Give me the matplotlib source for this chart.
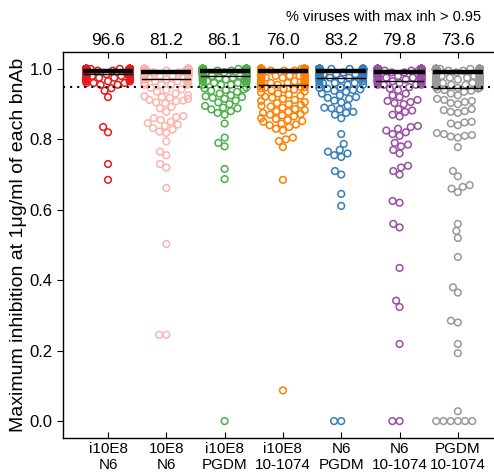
import matplotlib
matplotlib.use("Agg")
import matplotlib.pyplot as plt
import numpy as np

plt.rcParams['font.family'] = ['Liberation Sans', 'DejaVu Sans']

# paires d'anticorps (axe x)
pairs = ["i10E8\nN6", "10E8\nN6", "i10E8\nPGDM", "i10E8\n10-1074",
         "N6\nPGDM", "N6\n10-1074", "PGDM\n10-1074"]
colors = ["#e41a1c", "#fbb4ae", "#4daf4a", "#ff7f00", "#377eb8", "#984ea3", "#999999"]

# niveaux > 0.95 et nombre de virus à chaque niveau
hi_levels = [0.955, 0.96, 0.965, 0.97, 0.975, 0.98, 0.985, 0.99, 0.995, 1.0]
hi_i10e8_n6 = [2, 3, 4, 5, 8, 14, 20, 35, 50, 60]
hi_10e8_n6 = [4, 4, 3, 4, 8, 14, 20, 30, 40, 42]
hi_i10e8_pgdm = [3, 3, 4, 4, 5, 6, 12, 18, 30, 94]
hi_i10e8_1074 = [6, 5, 6, 7, 7, 7, 8, 6, 20, 86]
hi_n6_pgdm = [3, 3, 3, 4, 6, 8, 12, 14, 25, 95]
hi_n6_1074 = [4, 5, 6, 7, 8, 9, 10, 20, 30, 67]
hi_pgdm_1074 = [6, 6, 6, 6, 6, 6, 6, 12, 25, 74]

# virus sous 0.95
low_i10e8_n6 = [0.685, 0.73, 0.82, 0.835, 0.92, 0.938, 0.945]
low_10e8_n6 = [0.245, 0.245, 0.503, 0.662, 0.72, 0.73, 0.755, 0.765, 0.794,
               0.818, 0.822, 0.828, 0.832, 0.838, 0.842, 0.846, 0.85, 0.855,
               0.86, 0.863, 0.866, 0.878, 0.888, 0.892, 0.902, 0.905, 0.908,
               0.91, 0.912, 0.915, 0.918, 0.92, 0.922, 0.925, 0.93, 0.935,
               0.94, 0.942, 0.946]
low_i10e8_pgdm = [0.0, 0.687, 0.716, 0.78, 0.79, 0.805, 0.845, 0.87, 0.875,
                  0.88, 0.885, 0.888, 0.89, 0.895, 0.90, 0.905, 0.91, 0.915,
                  0.918, 0.92, 0.922, 0.925, 0.93, 0.935, 0.938, 0.94, 0.942,
                  0.945, 0.947]
low_i10e8_1074 = [0.087, 0.685, 0.778, 0.795, 0.80, 0.805, 0.825, 0.83, 0.835,
                  0.84, 0.842, 0.845, 0.85, 0.852, 0.855, 0.858, 0.86, 0.865,
                  0.868, 0.87, 0.872, 0.875, 0.878, 0.88, 0.883, 0.886, 0.89,
                  0.893, 0.895, 0.898, 0.90, 0.903, 0.906, 0.909, 0.912, 0.915,
                  0.918, 0.921, 0.924, 0.927, 0.93, 0.933, 0.936, 0.939, 0.941,
                  0.943, 0.945, 0.947, 0.948, 0.949]
low_n6_pgdm = [0.0, 0.0, 0.611, 0.645, 0.70, 0.71, 0.75, 0.755, 0.76, 0.765,
               0.77, 0.787, 0.815, 0.86, 0.87, 0.875, 0.878, 0.885, 0.888,
               0.89, 0.895, 0.905, 0.91, 0.915, 0.918, 0.92, 0.925, 0.93,
               0.935, 0.938, 0.94, 0.942, 0.944, 0.946, 0.948]
low_n6_1074 = [0.0, 0.0, 0.219, 0.324, 0.342, 0.435, 0.55, 0.56, 0.62, 0.625,
               0.70, 0.71, 0.72, 0.725, 0.76, 0.77, 0.78, 0.785, 0.79, 0.81,
               0.815, 0.82, 0.825, 0.83, 0.835, 0.838, 0.865, 0.87, 0.878,
               0.882, 0.886, 0.90, 0.903, 0.906, 0.909, 0.912, 0.92, 0.925,
               0.93, 0.94, 0.944, 0.948]
low_pgdm_1074 = [0.0, 0.0, 0.0, 0.0, 0.0, 0.0, 0.028, 0.193, 0.219, 0.28,
                 0.285, 0.365, 0.38, 0.466, 0.52, 0.54, 0.56, 0.65, 0.66,
                 0.665, 0.67, 0.695, 0.71, 0.778, 0.805, 0.808, 0.81, 0.812,
                 0.815, 0.818, 0.84, 0.845, 0.848, 0.85, 0.875, 0.878, 0.88,
                 0.883, 0.886, 0.90, 0.903, 0.906, 0.909, 0.912, 0.915, 0.925,
                 0.93, 0.935, 0.938, 0.94, 0.942, 0.944, 0.946, 0.947, 0.948]

his = [hi_i10e8_n6, hi_10e8_n6, hi_i10e8_pgdm, hi_i10e8_1074,
       hi_n6_pgdm, hi_n6_1074, hi_pgdm_1074]
lows = [low_i10e8_n6, low_10e8_n6, low_i10e8_pgdm, low_i10e8_1074,
        low_n6_pgdm, low_n6_1074, low_pgdm_1074]


def beeswarm(ypix, d, half):
    # placement en pixels, façon seaborn: au plus près du centre, sinon au bord
    order = np.argsort(ypix, kind="stable")
    xs = np.zeros(len(ypix))
    placed = []
    for k in order:
        y = ypix[k]
        near = [(px, py) for px, py in placed if abs(py - y) < d]
        cands = [0.0]
        for px, py in near:
            dx = np.sqrt(d ** 2 - (py - y) ** 2)
            cands += [px - dx, px + dx]
        cands.sort(key=abs)
        x = cands[-1]
        for c in cands:
            if all((c - px) ** 2 + (y - py) ** 2 >= d ** 2 - 1e-6 for px, py in near):
                x = c
                break
        placed.append((x, y))
        xs[k] = np.clip(x, -half, half)
    return xs


W, H = 494, 475
fig = plt.figure(figsize=(W / 100, H / 100), dpi=100)
ax = fig.add_axes([63 / W, 1 - 438 / H, 1 - 63 / W, (438 - 52) / H])
ax.set_xlim(-0.772, 6.62)
ax.set_ylim(-0.048, 1.048)

# échelle pixels / unité
x_scale = (1 - 63 / W) * W / (6.62 + 0.772)
y_scale = (438 - 52) / (1.048 + 0.048)

values = []
for i, (hi, lo) in enumerate(zip(his, lows)):
    v = np.concatenate([np.repeat(hi_levels, hi), lo])
    values.append(v)
    off = beeswarm(v * y_scale, 7.2, 21.8) / x_scale
    ax.scatter(i + off, v, s=4.8 ** 2, facecolors="none",
               edgecolors=colors[i], linewidths=1.1, zorder=3)

# médiane (trait épais) et 1er quartile (trait fin)
for i, v in enumerate(values):
    ax.plot([i - 0.43, i + 0.43], [np.median(v)] * 2, color="k", lw=3.2,
            solid_capstyle="butt", zorder=5)
    ax.plot([i - 0.41, i + 0.41], [np.percentile(v, 25)] * 2, color="k",
            lw=1.0, zorder=5)
    pct = 100 * np.mean(v > 0.95)
    ax.text(i, 1.031, f"{pct:.1f}", transform=ax.get_xaxis_transform(),
            ha="center", va="center", fontsize=12.5)

ax.axhline(0.95, color="k", lw=1.5, ls=(0, (1, 2.4)), zorder=6)

ax.set_xticks(range(len(pairs)))
ax.set_xticklabels(pairs, linespacing=1.15)
ax.set_yticks(np.arange(0, 1.01, 0.2))
ax.set_yticklabels([f"{t:.1f}" for t in np.arange(0, 1.01, 0.2)])
ax.set_ylabel("Maximum inhibition at 1μg/ml of each bnAb", fontsize=14)
ax.yaxis.set_label_coords(-0.083, 0.5)

ax.spines["right"].set_visible(False)
for s in ["left", "bottom", "top"]:
    ax.spines[s].set_linewidth(1.0)
ax.tick_params(axis="x", direction="in", top=True, length=4, labelsize=11, pad=3)
ax.tick_params(axis="y", direction="out", length=4, labelsize=12)

fig.text(481 / W, 1 - 17 / H, "% viruses with max inh > 0.95",
         ha="right", va="center", fontsize=10.5)

fig.savefig("out.png", dpi=100)
